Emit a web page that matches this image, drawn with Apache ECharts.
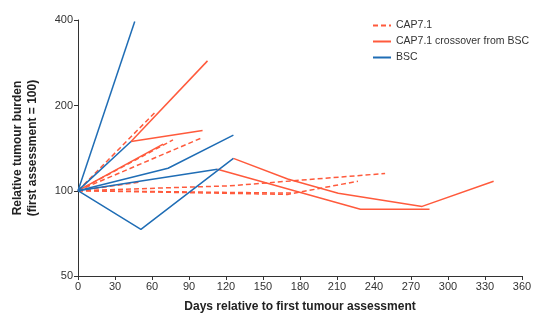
<!DOCTYPE html>
<html>
<head>
<meta charset="utf-8">
<script src="https://cdn.jsdelivr.net/npm/echarts@6/dist/echarts.min.js"></script>
<style>html,body{margin:0;padding:0;background:#fff}#c{width:550px;height:330px}</style>
</head>
<body>
<div id="c"></div>
<script>
// x ticks (days) and y ticks (relative tumour burden, log2 scale)
var xTicks = [0, 30, 60, 90, 120, 150, 180, 210, 240, 270, 300, 330, 360];
var yTicks = [50, 100, 200, 400];

// CAP7.1 (dashed orange) patient lines: [day, value]
var cap1 = [[0,100],[123,104],[249,115]];
var cap2 = [[0,100],[170,97],[227,108]];
var cap3 = [[0,100],[175,98]];
var cap4 = [[0,100],[77,151]];
var cap5 = [[0,100],[101,154]];
var cap6 = [[0,100],[62,188]];
var cap7 = [[0,100],[49,107]];

// CAP7.1 crossover from BSC (solid orange)
var cross1 = [[0,100],[69,146]];
var cross2 = [[43,149],[105,287]];
var cross3 = [[43,149],[101,163]];
var cross4 = [[113,119],[229,86],[285,86]];
var cross5 = [[126,130],[170,110],[211,98],[279,88],[337,108]];

// BSC (solid blue)
var bsc1 = [[0,100],[46,395]];
var bsc2 = [[0,100],[43,149]];
var bsc3 = [[0,100],[73,120],[126,157]];
var bsc4 = [[0,100],[113,119]];
var bsc5 = [[0,100],[51,73],[126,130]];

var ORANGE = '#FF5A3C';
var BLUE = '#1F6DB5';

function mk(name, data, color, dashed) {
  return {
    name: name, type: 'line', data: data, symbol: 'none', silent: true,
    lineStyle: {color: color, width: 1.5, type: dashed ? [5, 3] : 'solid'},
    itemStyle: {color: color}
  };
}

var series = [];
[cap1, cap2, cap3, cap4, cap5, cap6, cap7].forEach(function (d) { series.push(mk('CAP7.1', d, ORANGE, true)); });
[cross1, cross2, cross3, cross4, cross5].forEach(function (d) { series.push(mk('CAP7.1 crossover from BSC', d, ORANGE, false)); });
[bsc1, bsc2, bsc3, bsc4, bsc5].forEach(function (d) { series.push(mk('BSC', d, BLUE, false)); });

function nearestTick(v) {
  var best = yTicks[0];
  yTicks.forEach(function (t) { if (Math.abs(Math.log(t) - Math.log(v)) < Math.abs(Math.log(best) - Math.log(v))) best = t; });
  return String(best);
}

var chart = echarts.init(document.getElementById('c'), null, {renderer: 'canvas'});
var FONT = 'Liberation Sans, Arial, sans-serif';
chart.setOption({
  animation: false,
  backgroundColor: '#fff',
  textStyle: {fontFamily: FONT},
  grid: {left: 78, right: 28, top: 20, bottom: 54, containLabel: false},
  legend: {
    data: ['CAP7.1', 'CAP7.1 crossover from BSC', 'BSC'],
    orient: 'vertical', left: 367, top: 15, itemGap: 5,
    itemWidth: 18, itemHeight: 10,
    itemStyle: {opacity: 0},
    textStyle: {fontSize: 10.5, color: '#333', fontFamily: FONT}
  },
  xAxis: {
    type: 'value', min: xTicks[0], max: xTicks[xTicks.length - 1], interval: 30,
    name: 'Days relative to first tumour assessment', nameLocation: 'middle', nameGap: 25,
    nameTextStyle: {fontSize: 12, fontWeight: 'bold', color: '#222', fontFamily: FONT},
    axisLine: {lineStyle: {color: '#333', width: 1}},
    axisTick: {length: 4, lineStyle: {color: '#333'}},
    axisLabel: {fontSize: 11, color: '#333', margin: 5},
    splitLine: {show: false}
  },
  yAxis: {
    type: 'log', logBase: 2, min: yTicks[0], max: yTicks[yTicks.length - 1], interval: 1,
    name: 'Relative tumour burden\n(first assessment = 100)', nameLocation: 'middle', nameGap: 38,
    nameRotate: 90,
    nameTextStyle: {fontSize: 12, fontWeight: 'bold', color: '#222', lineHeight: 15, fontFamily: FONT},
    axisLine: {show: true, lineStyle: {color: '#333', width: 1}},
    axisTick: {show: true, length: 4, lineStyle: {color: '#333'}},
    axisLabel: {fontSize: 11, color: '#333', margin: 5, formatter: nearestTick},
    splitLine: {show: false}
  },
  series: series
});
</script>
</body>
</html>
